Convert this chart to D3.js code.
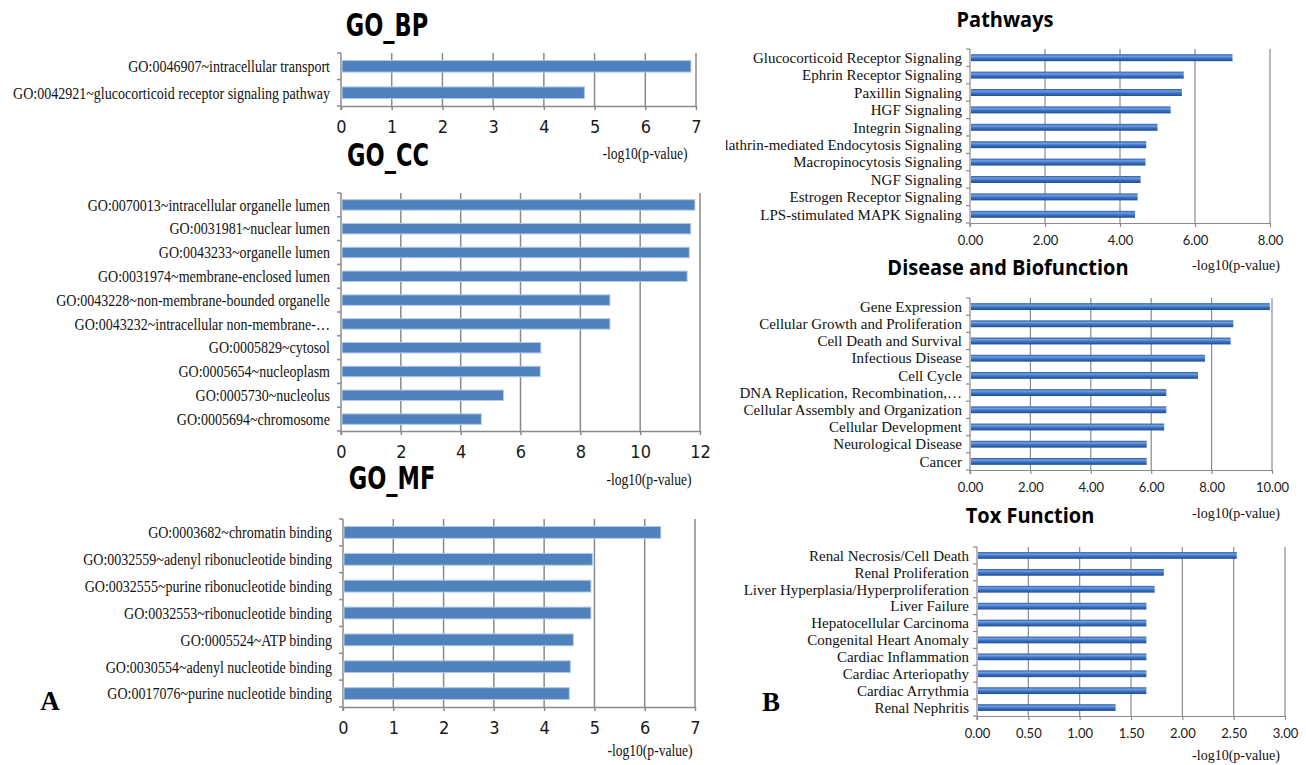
<!DOCTYPE html>
<html>
<head>
<meta charset="utf-8">
<script src="https://cdn.jsdelivr.net/npm/d3@7"></script>
<style>
  body { margin: 0; background: #fff; }
  svg { display: block; }
</style>
</head>
<body>
<svg id="chart" width="1306" height="765"></svg>
<script>
// ---- Data: -log10(p-value) per enriched term ----
const bpTerms = [
  "GO:0046907~intracellular transport",
  "GO:0042921~glucocorticoid receptor signaling pathway"
];
const bpValues = [6.9, 4.8];
const bpTicks = [0, 1, 2, 3, 4, 5, 6, 7];

const ccTerms = [
  "GO:0070013~intracellular organelle lumen",
  "GO:0031981~nuclear lumen",
  "GO:0043233~organelle lumen",
  "GO:0031974~membrane-enclosed lumen",
  "GO:0043228~non-membrane-bounded organelle",
  "GO:0043232~intracellular non-membrane-…",
  "GO:0005829~cytosol",
  "GO:0005654~nucleoplasm",
  "GO:0005730~nucleolus",
  "GO:0005694~chromosome"
];
const ccValues = [11.83, 11.69, 11.64, 11.57, 8.99, 8.99, 6.68, 6.66, 5.43, 4.69];
const ccTicks = [0, 2, 4, 6, 8, 10, 12];

const mfTerms = [
  "GO:0003682~chromatin binding",
  "GO:0032559~adenyl ribonucleotide binding",
  "GO:0032555~purine ribonucleotide binding",
  "GO:0032553~ribonucleotide binding",
  "GO:0005524~ATP binding",
  "GO:0030554~adenyl nucleotide binding",
  "GO:0017076~purine nucleotide binding"
];
const mfValues = [6.32, 4.96, 4.93, 4.93, 4.58, 4.52, 4.50];
const mfTicks = [0, 1, 2, 3, 4, 5, 6, 7];

const pathwayNames = [
  "Glucocorticoid Receptor Signaling",
  "Ephrin Receptor Signaling",
  "Paxillin Signaling",
  "HGF Signaling",
  "Integrin Signaling",
  "Clathrin-mediated Endocytosis Signaling",
  "Macropinocytosis Signaling",
  "NGF Signaling",
  "Estrogen Receptor Signaling",
  "LPS-stimulated MAPK Signaling"
];
const pathwayValues = [7.0, 5.7, 5.65, 5.35, 5.0, 4.7, 4.68, 4.55, 4.47, 4.4];
const pathwayTicks = [0, 2, 4, 6, 8];

const diseaseNames = [
  "Gene Expression",
  "Cellular Growth and Proliferation",
  "Cell Death and Survival",
  "Infectious Disease",
  "Cell Cycle",
  "DNA Replication, Recombination,…",
  "Cellular Assembly and Organization",
  "Cellular Development",
  "Neurological Disease",
  "Cancer"
];
const diseaseValues = [9.93, 8.72, 8.63, 7.78, 7.55, 6.5, 6.5, 6.43, 5.85, 5.85];
const diseaseTicks = [0, 2, 4, 6, 8, 10];

const toxNames = [
  "Renal Necrosis/Cell Death",
  "Renal Proliferation",
  "Liver Hyperplasia/Hyperproliferation",
  "Liver Failure",
  "Hepatocellular Carcinoma",
  "Congenital Heart Anomaly",
  "Cardiac Inflammation",
  "Cardiac Arteriopathy",
  "Cardiac Arrythmia",
  "Renal Nephritis"
];
const toxValues = [2.53, 1.82, 1.73, 1.65, 1.65, 1.65, 1.65, 1.65, 1.65, 1.35];
const toxTicks = [0, 0.5, 1, 1.5, 2, 2.5, 3];

const axisLabel = "-log10(p-value)";

// ---- Drawing ----
const svg = d3.select("#chart");
const gridColor = "#8a8a8a";
const SERIF = "'Liberation Serif','Times New Roman',serif";
const NARROW = "'Liberation Sans Narrow','DejaVu Sans Condensed','Arial Narrow',sans-serif";
const TITLE_SANS = "'Open Sans','Noto Sans',sans-serif";

const defs = svg.append("defs");
const shade = defs.append("linearGradient").attr("id", "barShade")
  .attr("x1", 0).attr("y1", 0).attr("x2", 0).attr("y2", 1);
[[0, "#2b5ca8"], [0.3, "#6f9fe0"], [0.6, "#3a70c2"], [1, "#1f4c94"]]
  .forEach(([o, c]) => shade.append("stop").attr("offset", o).attr("stop-color", c));
defs.append("clipPath").attr("id", "rightHalf")
  .append("rect").attr("x", 726).attr("y", 0).attr("width", 580).attr("height", 765);

function panel(cfg) {
  const g = svg.append("g");
  const x = d3.scaleLinear().domain([0, d3.max(cfg.ticks)]).range([cfg.x0, cfg.x1]);
  const y = d3.scaleBand().domain(cfg.names).range([cfg.y0, cfg.y1])
    .paddingInner(cfg.pad).paddingOuter(cfg.pad / 2);

  // vertical gridlines
  g.selectAll("line.grid").data(cfg.ticks.filter(t => t > 0)).join("line")
    .attr("class", "grid")
    .attr("x1", d => x(d)).attr("x2", d => x(d))
    .attr("y1", cfg.y0).attr("y2", cfg.y1)
    .attr("stroke", gridColor).attr("stroke-width", cfg.lineW);

  // value axis
  const ax = g.append("g").attr("transform", `translate(0,${cfg.y1})`)
    .call(d3.axisBottom(x).tickValues(cfg.ticks).tickFormat(cfg.fmt)
      .tickSizeInner(4).tickSizeOuter(0).tickPadding(cfg.tickPad));
  ax.attr("font-family", cfg.tickFont).attr("font-size", cfg.tickSize);
  ax.select(".domain").attr("stroke", gridColor).attr("stroke-width", cfg.lineW);
  ax.selectAll(".tick line").attr("stroke", gridColor).attr("stroke-width", cfg.lineW);
  ax.selectAll(".tick text").attr("fill", "#1a1a1a");

  // category axis with ticks on slot boundaries
  g.append("line").attr("x1", cfg.x0).attr("x2", cfg.x0)
    .attr("y1", cfg.y0).attr("y2", cfg.y1 + 4)
    .attr("stroke", gridColor).attr("stroke-width", cfg.lineW);
  g.selectAll("line.slot").data(d3.range(cfg.names.length + 1)).join("line")
    .attr("class", "slot")
    .attr("x1", cfg.x0 - 4).attr("x2", cfg.x0)
    .attr("y1", i => cfg.y0 + i * y.step()).attr("y2", i => cfg.y0 + i * y.step())
    .attr("stroke", gridColor).attr("stroke-width", cfg.lineW);

  // bars
  g.selectAll("rect.bar").data(cfg.names).join("rect")
    .attr("class", "bar")
    .attr("x", x(0) + 1)
    .attr("y", d => y(d))
    .attr("width", (d, i) => x(cfg.values[i]) - x(0) - 1)
    .attr("height", y.bandwidth())
    .attr("fill", cfg.barFill)
    .attr("stroke", cfg.barStroke)
    .attr("stroke-width", cfg.barStroke === "none" ? 0 : 1);

  // category labels
  const lab = g.append("g");
  if (cfg.clip) lab.attr("clip-path", "url(#rightHalf)");
  lab.selectAll("text").data(cfg.names).join("text")
    .attr("transform", d => `translate(${cfg.x0 - cfg.labelGap},${y(d) + y.bandwidth() / 2}) scale(${cfg.labelScale},1)`)
    .attr("dy", "0.35em")
    .attr("text-anchor", "end")
    .attr("font-family", SERIF)
    .attr("font-size", cfg.labelSize)
    .attr("fill", "#111")
    .text(d => d);

  // title
  g.append("text")
    .attr("transform", `translate(${cfg.titleX},${cfg.titleY}) scale(1,${cfg.titleStretch})`)
    .attr("text-anchor", "middle")
    .attr("font-family", cfg.titleFont)
    .attr("font-weight", "bold")
    .attr("font-size", cfg.titleSize)
    .attr("fill", "#000")
    .text(cfg.title);

  // axis title
  g.append("text")
    .attr("transform", `translate(${cfg.xlabX},${cfg.xlabY}) scale(${cfg.labelScale},1)`)
    .attr("text-anchor", "middle")
    .attr("font-family", SERIF)
    .attr("font-size", cfg.xlabSize)
    .attr("fill", "#111")
    .text(axisLabel);
}

const leftStyle = {
  pad: 0.56, lineW: 1.5, fmt: d3.format("d"),
  tickFont: NARROW, tickSize: 18, tickPad: 10,
  barFill: "#4f81bd", barStroke: "#b4c9e6",
  labelGap: 11, labelSize: 16.5, labelScale: 0.85,
  titleFont: NARROW, titleSize: 25, titleStretch: 1.25, xlabSize: 16
};
const rightStyle = {
  pad: 0.6, lineW: 1.2, fmt: d3.format(".2f"),
  tickFont: "Lato,'Open Sans',sans-serif", tickSize: 13, tickPad: 9,
  barFill: "url(#barShade)", barStroke: "none",
  labelGap: 8, labelSize: 15, labelScale: 1,
  titleFont: TITLE_SANS, titleSize: 20, titleStretch: 1.05, xlabSize: 14
};

panel({ ...leftStyle, title: "GO_BP", names: bpTerms, values: bpValues, ticks: bpTicks,
  x0: 341, x1: 696, y0: 53, y1: 106, titleX: 387, titleY: 36, xlabX: 645, xlabY: 159 });
panel({ ...leftStyle, title: "GO_CC", names: ccTerms, values: ccValues, ticks: ccTicks,
  x0: 341, x1: 700, y0: 193, y1: 431, titleX: 388, titleY: 166, xlabX: 649, xlabY: 485 });
panel({ ...leftStyle, title: "GO_MF", names: mfTerms, values: mfValues, ticks: mfTicks,
  x0: 343, x1: 695, y0: 519, y1: 707, titleX: 392, titleY: 489, xlabX: 650, xlabY: 756 });

panel({ ...rightStyle, title: "Pathways", names: pathwayNames, values: pathwayValues, ticks: pathwayTicks,
  x0: 970, x1: 1270, y0: 49, y1: 223, titleX: 1005, titleY: 27, xlabX: 1236, xlabY: 270, clip: true });
panel({ ...rightStyle, title: "Disease and Biofunction", names: diseaseNames, values: diseaseValues, ticks: diseaseTicks,
  x0: 970, x1: 1272, y0: 298, y1: 470, titleX: 1008, titleY: 275, xlabX: 1236, xlabY: 518 });
panel({ ...rightStyle, title: "Tox Function", names: toxNames, values: toxValues, ticks: toxTicks,
  x0: 977, x1: 1285, y0: 547, y1: 716, titleX: 1030, titleY: 523, xlabX: 1236, xlabY: 760 });

// panel letters
[["A", 50, 710], ["B", 771, 711]].forEach(([t, px, py]) =>
  svg.append("text").attr("x", px).attr("y", py).attr("text-anchor", "middle")
    .attr("font-family", SERIF).attr("font-weight", "bold").attr("font-size", 27)
    .attr("fill", "#000").text(t));
</script>
</body>
</html>
